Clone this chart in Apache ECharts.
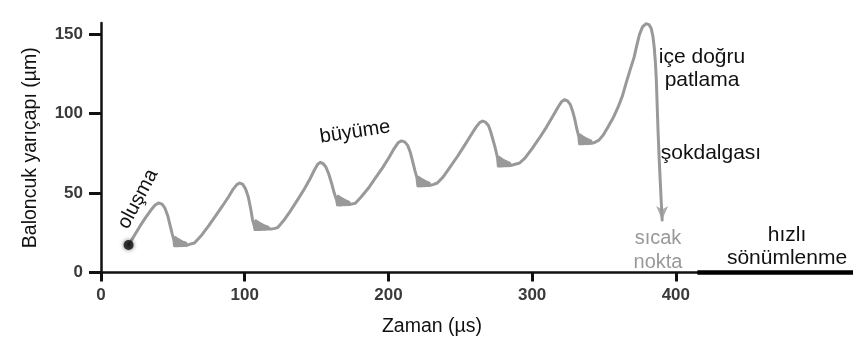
<!DOCTYPE html>
<html><head><meta charset="utf-8">
<script src="https://cdn.jsdelivr.net/npm/echarts@6/dist/echarts.min.js"></script>
<style>html,body{margin:0;padding:0;background:#fff}#c{width:853px;height:347px}</style>
</head><body><div id="c"></div>
<script>
// ---- data ----
const xTicks = [0, 100, 200, 300, 400];
const yTicks = [0, 50, 100, 150];
const nucleation = [19.2, 17.3];

const cycle1 = [[19.2,17.3],[23,23],[27,29],[31,34.5],[34.5,39],[37.5,42.3],[40,43.7],[42.5,43],[44.5,40.5],[46.5,35.5],[48,30],[49.5,24.5],[50.7,20.5],
[51.2,16.8],[51.8,22],[52.4,16.8],[53,21.3],[53.6,16.8],[54.2,20.6],[54.8,16.9],[55.4,20],[56,16.9],[56.6,19.4],[57.2,17],[57.8,18.9],[58.4,17],[59,18.5],[59.6,17],[60.2,18.1],[60.8,17.1],[61.5,17.7],[62.5,17.4]];
const cycle2 = [[65,18.6],[70,23.5],[75,29.5],[80,36],[85,42.5],[89,48],[92,52.5],[94.5,55.3],[96.5,56.3],[98.5,55.6],[100.5,52.8],[102.5,47.5],[104.2,40],[105.5,33],[106.6,29.5],
[107.2,27],[107.8,32.5],[108.4,27],[109,31.8],[109.6,27],[110.2,31.1],[110.8,27.1],[111.4,30.5],[112,27.1],[112.6,29.9],[113.2,27.2],[113.8,29.4],[114.4,27.2],[115,29],[115.6,27.3],[116.2,28.6],[116.8,27.3],[117.6,28.2],[118.5,27.4],[120,27.6],[121.5,27.9]];
const cycle3 = [[123,28.3],[127,32.5],[132,39],[137,46],[141.5,52.5],[145.5,59],[148.5,64.5],[150.7,68],[152.5,69.3],[154.5,68.6],[156.5,66.4],[158.5,62],[160.5,56],[162.3,50],[164,45.5],
[164.6,42.5],[165.2,48],[165.8,42.5],[166.4,47.2],[167,42.5],[167.6,46.5],[168.2,42.6],[168.8,45.9],[169.4,42.6],[170,45.3],[170.6,42.7],[171.2,44.8],[171.8,42.7],[172.4,44.3],[173,42.8],[173.8,43.8],[175,43.2]];
const cycle4 = [[177,43.6],[181,47.5],[186,53],[191,59.5],[196,66],[200.5,72.5],[204,78],[206.7,81.6],[209,82.8],[211.3,82.2],[213.4,80],[215.3,75.5],[217,69.5],[218.5,64],[219.9,59.5],
[220.5,54.5],[221.1,60],[221.7,54.5],[222.3,59.2],[222.9,54.5],[223.5,58.5],[224.1,54.6],[224.7,57.9],[225.3,54.6],[225.9,57.3],[226.5,54.7],[227.1,56.8],[227.7,54.7],[228.3,56.3],[228.9,54.8],[229.7,55.8],[231,55.3]];
const cycle5 = [[234,56.3],[238,60],[243,66.5],[248,73],[253,80],[257.5,86.5],[261,91.5],[263.5,94.3],[265.5,95.3],[267.6,94.6],[269.6,92.5],[271.2,88.5],[272.6,84],[274,79.5],[275.9,72.5],
[276.5,67],[277.1,72.5],[277.7,67],[278.3,71.7],[278.9,67],[279.5,71],[280.1,67.1],[280.7,70.4],[281.3,67.1],[281.9,69.8],[282.5,67.2],[283.1,69.3],[283.7,67.2],[284.3,68.8],[284.9,67.3],[285.7,68.3],[287,67.8]];
const cycle6 = [[291.3,68.9],[295,72],[300,78],[305,84.5],[310,91.5],[314.5,98.5],[318,104],[320.5,107.5],[322.5,108.8],[324.6,108],[326.5,105.8],[328.2,101.5],[329.8,96],[331.2,90],[332.5,85.5],
[333,81],[333.6,86.5],[334.2,81],[334.8,85.7],[335.4,81],[336,85],[336.6,81.1],[337.2,84.4],[337.8,81.1],[338.4,83.8],[339,81.2],[339.6,83.3],[340.2,81.2],[340.8,82.8],[341.4,81.3],[342.2,82.3],[343.5,81.8]];
const collapse = [[346.5,83.3],[349.5,86.5],[352.8,91.5],[356.5,97.5],[359.8,104],[362.8,111],[365.4,119.2],[368.2,127.5],[371,135.5],[373,143.5],[374.8,150],[376.8,154.5],[379.2,156.5],[381.3,156],[382.9,153.5],[384.1,148.5],[385,141.5],[385.8,132],[386.4,122],[387,106],[387.6,90],[388.4,72],[389.3,55],[390,42],[390.5,33]];
const quenchTime = [415, 524];
const quenchRadius = [0, 0];

// ---- chart ----
const FONT = "'Liberation Sans', Arial, Helvetica, sans-serif";
const curve = [].concat(cycle1, cycle2, cycle3, cycle4, cycle5, cycle6, collapse);
const arrowPoint = collapse[collapse.length - 1];

const chart = echarts.init(document.getElementById('c'), null, {renderer: 'canvas'});
chart.setOption({
  animation: false,
  backgroundColor: '#ffffff',
  grid: {left: 101, right: 0, top: 23, bottom: 74.5, containLabel: false},
  xAxis: {
    type: 'value', min: 0, max: 523.3,
    name: 'Zaman (µs)', nameLocation: 'middle', nameGap: 44,
    nameTextStyle: {fontFamily: FONT, fontSize: 19.5, color: '#111', padding: [0, 90, 0, 0]},
    axisLine: {show: true, onZero: false, lineStyle: {color: '#111', width: 2.5}},
    axisTick: {show: true, length: 9, inside: false, customValues: xTicks, lineStyle: {color: '#111', width: 3}},
    axisLabel: {customValues: xTicks, margin: 14, fontFamily: FONT, fontSize: 17, fontWeight: 'bold', color: '#3a3a3a'},
    splitLine: {show: false}
  },
  yAxis: {
    type: 'value', min: 0, max: 157,
    name: 'Baloncuk yarıçapı (µm)', nameLocation: 'middle', nameGap: 60,
    nameTextStyle: {fontFamily: FONT, fontSize: 19.5, color: '#111'},
    axisLine: {show: true, onZero: false, lineStyle: {color: '#111', width: 2.5}},
    axisTick: {show: true, length: 12, customValues: yTicks, lineStyle: {color: '#111', width: 3}},
    axisLabel: {customValues: yTicks, margin: 18, fontFamily: FONT, fontSize: 17, fontWeight: 'bold', color: '#3a3a3a'},
    splitLine: {show: false}
  },
  series: [
    {
      type: 'line', data: curve, symbol: 'none', smooth: false, clip: false, z: 3,
      lineStyle: {color: '#999999', width: 3, join: 'round', cap: 'round'}
    },
    {
      type: 'scatter', data: [arrowPoint], symbol: 'arrow', symbolSize: [9, 14], symbolRotate: 180,
      itemStyle: {color: '#999999'}, z: 4, clip: false
    },
    {
      type: 'scatter', data: [nucleation], symbol: 'circle', symbolSize: 10, z: 5,
      itemStyle: {color: '#111', shadowBlur: 4, shadowColor: 'rgba(0,0,0,0.7)'}
    },
    {
      type: 'line', data: quenchTime.map((t, i) => [t, quenchRadius[i]]), symbol: 'none', clip: false, z: 6,
      lineStyle: {color: '#000', width: 4.5}
    }
  ],
  graphic: [
    {type: 'text', x: 138, y: 199, rotation: 62 * Math.PI / 180,
     style: {text: 'oluşma', font: '20px ' + FONT, fill: '#111', textAlign: 'center', textVerticalAlign: 'middle'}},
    {type: 'text', x: 355, y: 132, rotation: 8.5 * Math.PI / 180,
     style: {text: 'büyüme', font: '20px ' + FONT, fill: '#111', textAlign: 'center', textVerticalAlign: 'middle'}},
    {type: 'text', x: 702, y: 69,
     style: {text: 'içe doğru\npatlama', font: '21px ' + FONT, lineHeight: 23, fill: '#111', textAlign: 'center', textVerticalAlign: 'middle'}},
    {type: 'text', x: 711, y: 153,
     style: {text: 'şokdalgası', font: '21px ' + FONT, fill: '#111', textAlign: 'center', textVerticalAlign: 'middle'}},
    {type: 'text', x: 658, y: 250,
     style: {text: 'sıcak\nnokta', font: '20px ' + FONT, lineHeight: 24, fill: '#999999', textAlign: 'center', textVerticalAlign: 'middle'}},
    {type: 'text', x: 787, y: 247,
     style: {text: 'hızlı\nsönümlenme', font: '21px ' + FONT, lineHeight: 23, fill: '#111', textAlign: 'center', textVerticalAlign: 'middle'}}
  ]
});
</script>
</body></html>
